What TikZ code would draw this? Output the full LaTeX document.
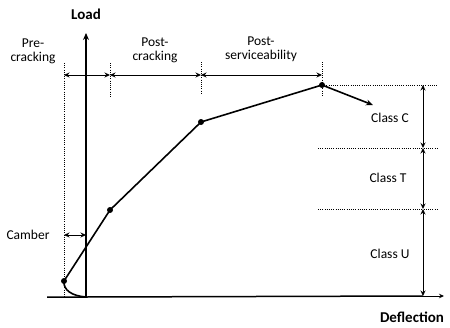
\documentclass[tikz,border=0pt]{standalone}
\usepackage{fontspec}
\setmainfont{Carlito}
\usetikzlibrary{arrows.meta}
\begin{document}
\begin{tikzpicture}[x=1pt,y=-1pt,
  lbl/.style={font=\fontsize{13.5}{14}\selectfont, align=center, inner sep=0pt},
  axlbl/.style={font=\fontsize{15}{16}\selectfont\bfseries, inner sep=0pt},
  guide/.style={dotted, line width=1pt, dash pattern=on 1pt off 1.2pt},
  dim/.style={line width=0.9pt, {Stealth[length=5.5pt,width=5pt]}-{Stealth[length=5.5pt,width=5pt]}},
  axis/.style={line width=1.5pt},
  curve/.style={line width=1.6pt},
  pt/.style={circle, fill=black, inner sep=0pt, minimum size=6pt}]
\useasboundingbox (0,0) rectangle (450,327);

% axes
\coordinate (o) at (86,297);
\coordinate (ytop) at (86,33);
\coordinate (xl) at (47,297);
\coordinate (xr) at (444,296);
\draw[axis] (xl) -- (o) -- (423,296);
\draw[line width=1pt,-{Stealth[length=5pt,width=4.5pt]}] (423,296) -- (xr);
\draw[axis,-{Stealth[length=7pt,width=6pt]}] (o) -- (ytop);
\node[axlbl] (load) at (86,14) {Load};
\node[axlbl] (defl) at (412,317) {Deflection};

% load-deflection curve
\node[pt] (p0) at (64,281) {};
\node[pt] (p1) at (110,210) {};
\node[pt] (p2) at (201,122) {};
\node[pt] (p3) at (322,85) {};
\coordinate (pend) at (373,105);
\draw[curve] (o) .. controls (72,296) and (63,290) .. (p0.center)
  -- (p1.center) -- (p2.center) -- (p3.center);
\draw[curve,-{Stealth[length=7pt,width=6pt]}] (p3.center) -- (pend);

% vertical guides of the stages
\coordinate (g0t) at (64,63);
\coordinate (g0b) at (64,297);
\coordinate (g1t) at (110,63);
\coordinate (g1b) at (110,97);
\coordinate (g2t) at (201,62);
\coordinate (g2b) at (201,93);
\coordinate (g3t) at (322,62);
\coordinate (g3b) at (322,96);
\draw[guide] (g0t) -- (g0b);
\draw[guide] (g1t) -- (g1b);
\draw[guide] (g2t) -- (g2b);
\draw[guide] (g3t) -- (g3b);

% stage arrows
\coordinate (a0) at (64,75);
\coordinate (a1) at (110,75);
\coordinate (a2) at (201,75);
\coordinate (a3) at (322,75);
\draw[dim] (a0) -- (a1);
\draw[dim] (a1) -- (a2);
\draw[dim] (a2) -- (a3);
\node[lbl] (pre) at (33,51) {Pre-\\cracking};
\node[lbl] (postc) at (155,50) {Post-\\cracking};
\node[lbl] (posts) at (261,49) {Post-\\serviceability};

% camber
\coordinate (c0) at (64,235);
\coordinate (c1) at (86,235);
\draw[dim] (c0) -- (c1);
\node[lbl] (camber) at (28,235) {Camber};

% classes
\coordinate (h1l) at (322,85);
\coordinate (h1r) at (437,85);
\coordinate (h2l) at (318,148);
\coordinate (h2r) at (437,148);
\coordinate (h3l) at (318,209);
\coordinate (h3r) at (437,209);
\draw[guide] (h1l) -- (h1r);
\draw[guide] (h2l) -- (h2r);
\draw[guide] (h3l) -- (h3r);
\coordinate (v1) at (423,85);
\coordinate (v2) at (423,148);
\coordinate (v3) at (423,209);
\coordinate (v4) at (423,296);
\draw[dim] (v1) -- (v2);
\draw[dim] (v2) -- (v3);
\draw[dim] (v3) -- (v4);
\node[lbl] (cc) at (390,118) {Class C};
\node[lbl] (ct) at (388,178) {Class T};
\node[lbl] (cu) at (390,254) {Class U};
\end{tikzpicture}
\end{document}
